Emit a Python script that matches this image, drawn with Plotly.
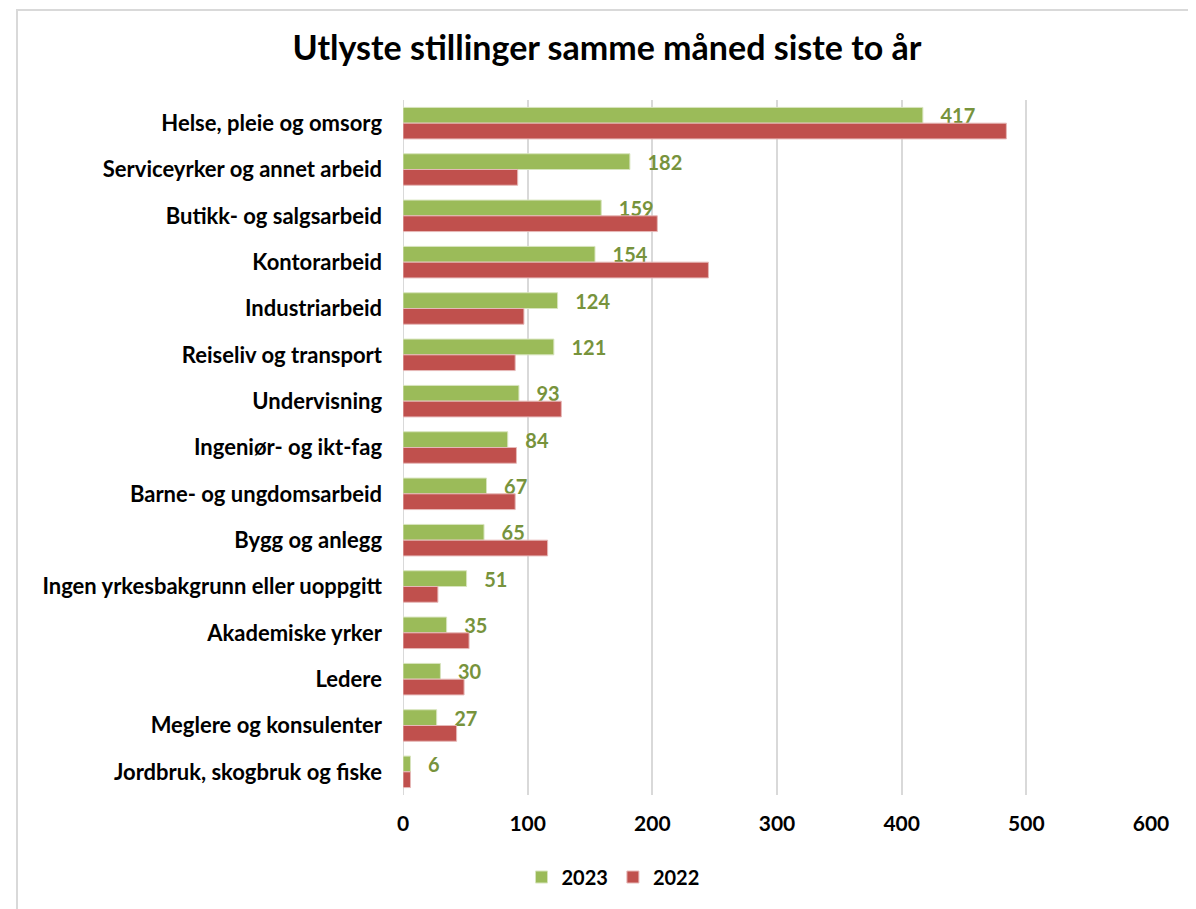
import plotly.graph_objects as go

categories = [
    "Helse, pleie og omsorg",
    "Serviceyrker og annet arbeid",
    "Butikk- og salgsarbeid",
    "Kontorarbeid",
    "Industriarbeid",
    "Reiseliv og transport",
    "Undervisning",
    "Ingeniør- og ikt-fag",
    "Barne- og ungdomsarbeid",
    "Bygg og anlegg",
    "Ingen yrkesbakgrunn eller uoppgitt",
    "Akademiske yrker",
    "Ledere",
    "Meglere og konsulenter",
    "Jordbruk, skogbruk og fiske",
]
values_2023 = [417, 182, 159, 154, 124, 121, 93, 84, 67, 65, 51, 35, 30, 27, 6]
values_2022 = [484, 92, 204, 245, 97, 90, 127, 91, 90, 116, 28, 53, 49, 43, 6]
x_ticks = [0, 100, 200, 300, 400, 500, 600]

FONT = "Lato"
GREEN = "#9BBB59"
RED = "#C0504D"
LABEL_GREEN = "#77933C"

# page offset of the figure inside the browser (body margin)
OFF = 8
W, H = 1196, 909
# desired on-screen plot area
left, right, top, bottom = 403, 1151, 100, 795
ml = left - OFF
mt = top - OFF
pw = right - left
ph = bottom - top
mr = W - ml - pw
mb = H - mt - ph

def px_x(sx):
    return (sx - left) / pw

def px_y(sy):
    return (bottom - sy) / ph

fig = go.Figure()
fig.add_trace(go.Bar(
    y=categories, x=values_2023, name="<b>2023</b>", orientation="h",
    marker=dict(color=GREEN, line=dict(color="#D7E4BD", width=1)),
    text=[f"<b>\u00a0\u00a0\u00a0{v}</b>" for v in values_2023],
    textposition="outside", constraintext="none",
    textfont=dict(family=FONT, size=20, color=LABEL_GREEN),
    cliponaxis=False,
))
fig.add_trace(go.Bar(
    y=categories, x=values_2022, name="<b>2022</b>", orientation="h",
    marker=dict(color=RED, line=dict(color="#E6B9B8", width=1)),
))

fig.update_layout(
    width=W, height=H,
    margin=dict(l=ml, r=mr, t=mt, b=mb),
    paper_bgcolor="white", plot_bgcolor="white",
    barmode="group", bargap=0.32, bargroupgap=0.0,
    title=dict(text="<b>Utlyste stillinger samme måned siste to år</b>",
               x=(607 - OFF) / W, xanchor="center", y=1 - (48 - OFF) / H,
               yanchor="middle",
               font=dict(family=FONT, size=34, color="black")),
    font=dict(family=FONT, color="black"),
    legend=dict(orientation="h", x=px_x(613), xanchor="center",
                y=px_y(877), yanchor="middle",
                font=dict(family=FONT, size=20, color="black"),
                traceorder="normal", itemwidth=30),
    showlegend=True,
)
fig.update_xaxes(
    range=[0, 600], tickvals=x_ticks, ticktext=[f"<b>{t}</b>" for t in x_ticks],
    showgrid=True, gridcolor="#D9D9D9", gridwidth=2,
    zeroline=False, showline=False, ticks="", ticklabelstandoff=14,
    tickfont=dict(family=FONT, size=21, color="black"),
)
fig.update_yaxes(
    autorange="reversed", tickvals=categories,
    ticktext=[f"<b>{c}</b>" for c in categories],
    showgrid=False, showline=False, ticks="", ticklabelstandoff=20,
    tickfont=dict(family=FONT, size=22, color="black"),
)
fig.add_shape(type="line", xref="x", yref="paper", x0=0, x1=0, y0=0, y1=1,
              line=dict(color="#D9D9D9", width=2), layer="below")
# outer chart border
fig.add_shape(type="rect", xref="paper", yref="paper",
              x0=px_x(17), x1=px_x(1194),
              y0=px_y(915), y1=px_y(10),
              line=dict(color="#D9D9D9", width=2), fillcolor="rgba(0,0,0,0)")

fig.write_html("out.html")
